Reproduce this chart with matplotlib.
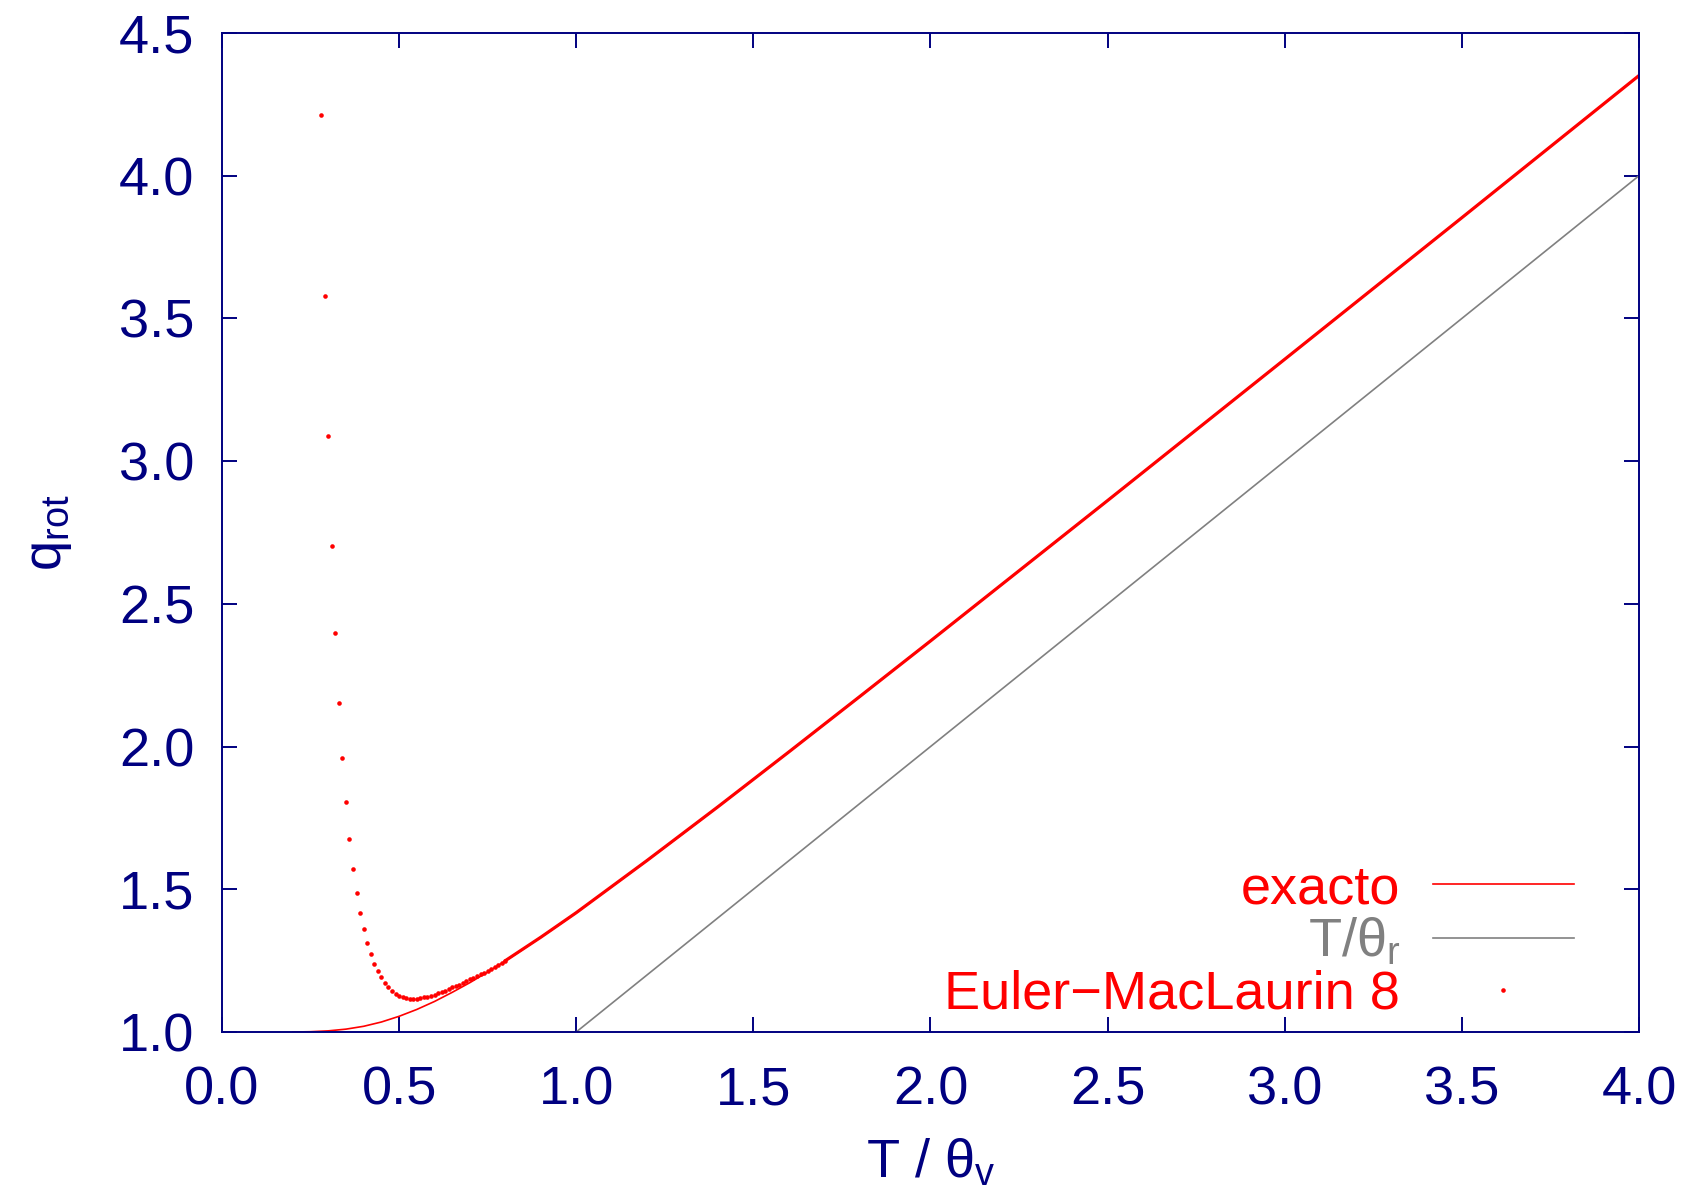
import matplotlib.pyplot as plt

# exact rotational partition function
exact_T = [0.20, 0.25, 0.30, 0.35, 0.40, 0.45, 0.50, 0.55, 0.60, 0.65, 0.70, 0.75,
           0.80, 0.85, 0.90, 0.95, 1.00, 1.10, 1.20, 1.30, 1.40, 1.50, 1.60, 1.70,
           1.80, 1.90, 2.00, 2.50, 3.00, 3.50, 4.00]
exact_q = [1.000, 1.001, 1.004, 1.010, 1.020, 1.035, 1.055, 1.079, 1.107, 1.139, 1.173, 1.210,
           1.249, 1.290, 1.332, 1.374, 1.418, 1.509, 1.601, 1.694, 1.789, 1.885, 1.981, 2.078,
           2.175, 2.273, 2.370, 2.862, 3.357, 3.853, 4.351]

# classical limit T/theta_r
lin_T = [0.0, 4.0]
lin_q = [0.0, 4.0]

# Euler-MacLaurin (8 terms), separate dots at low T
em_T = [0.28, 0.29, 0.30, 0.31, 0.32, 0.33, 0.34, 0.35, 0.36, 0.37, 0.38, 0.39,
        0.40, 0.41, 0.42, 0.43, 0.44, 0.45, 0.46, 0.47, 0.48, 0.49, 0.50, 0.51,
        0.52, 0.53, 0.54, 0.55, 0.56, 0.57, 0.58, 0.59, 0.60, 0.61, 0.62, 0.63,
        0.64, 0.65, 0.66, 0.67, 0.68, 0.69, 0.70, 0.71, 0.72, 0.73, 0.74, 0.75,
        0.76, 0.77, 0.78, 0.79, 0.80]
em_q = [4.213, 3.579, 3.087, 2.702, 2.398, 2.154, 1.960, 1.805, 1.677, 1.571, 1.486, 1.417,
        1.360, 1.312, 1.273, 1.239, 1.213, 1.191, 1.172, 1.157, 1.143, 1.133, 1.126, 1.121,
        1.118, 1.116, 1.116, 1.117, 1.118, 1.121, 1.124, 1.127, 1.131, 1.135, 1.140, 1.145,
        1.150, 1.156, 1.160, 1.166, 1.172, 1.178, 1.184, 1.190, 1.196, 1.202, 1.208, 1.214,
        1.221, 1.228, 1.235, 1.242, 1.250]
# at higher T the dots sit on the exact curve and merge into a band
em_tail_T = [0.80, 0.90, 1.00, 1.20, 1.40, 1.60, 1.80, 2.00, 2.50, 3.00, 3.50, 4.00]
em_tail_q = [1.250, 1.332, 1.418, 1.601, 1.789, 1.981, 2.175, 2.370, 2.862, 3.357, 3.853, 4.351]

navy = '#000080'
plt.rcParams['font.family'] = ['Liberation Sans', 'DejaVu Sans']
plt.rcParams['mathtext.fontset'] = 'custom'
plt.rcParams['mathtext.rm'] = 'Liberation Sans'
plt.rcParams['mathtext.it'] = 'Liberation Sans:italic'

fig = plt.figure(figsize=(16.84, 11.95), dpi=100)
ax = fig.add_axes([0.1318, 0.1364, 0.8415, 0.8360])

ax.plot(exact_T, exact_q, color='red', lw=1.2, label='exacto')
ax.plot(lin_T, lin_q, color='#808080', lw=1.2, label=r'T/θ$_\mathrm{r}$')
ax.plot(em_tail_T, em_tail_q, color='red', lw=2.3)
ax.plot(em_T, em_q, linestyle='none', marker='o', ms=3.3, mew=0, color='red',
        label='Euler−MacLaurin 8')

ax.set_xlim(0, 4)
ax.set_ylim(1, 4.5)
ax.set_xticks([0.0, 0.5, 1.0, 1.5, 2.0, 2.5, 3.0, 3.5, 4.0])
ax.set_yticks([1.0, 1.5, 2.0, 2.5, 3.0, 3.5, 4.0, 4.5])
ax.set_xticklabels(['0.0', '0.5', '1.0', '1.5', '2.0', '2.5', '3.0', '3.5', '4.0'])
ax.set_yticklabels(['1.0', '1.5', '2.0', '2.5', '3.0', '3.5', '4.0', '4.5'])

ax.tick_params(direction='in', length=11, width=1.4, color=navy, labelcolor=navy,
               labelsize=39, top=True, right=True)
ax.tick_params(axis='x', pad=24)
ax.tick_params(axis='y', pad=20)
for s in ax.spines.values():
    s.set_color(navy)
    s.set_linewidth(1.4)

ax.set_xlabel(r'T / θ$_\mathrm{v}$', fontsize=39, color=navy, labelpad=16)
ax.set_ylabel(r'q$_\mathrm{rot}$', fontsize=39, color=navy, labelpad=32)

ax.legend(loc='lower right', bbox_to_anchor=(0.973, -0.015), frameon=False,
          fontsize=39, markerfirst=False, handlelength=2.6, handletextpad=0.6,
          labelspacing=0.04, borderpad=0, numpoints=1, labelcolor='linecolor')

plt.savefig('out.png', dpi=100)
